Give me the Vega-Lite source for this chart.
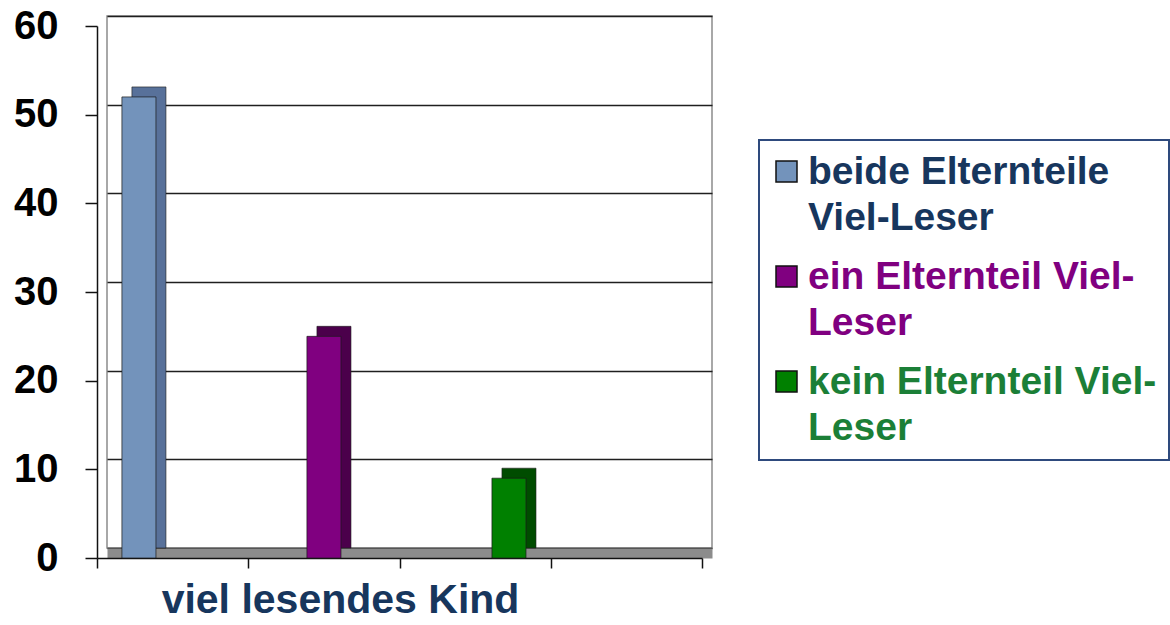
{
  "$schema": "https://vega.github.io/schema/vega-lite/v6.json",
  "width": 605,
  "height": 532,
  "autosize": {"type": "none"},
  "padding": {"left": 107, "top": 16, "right": 458, "bottom": 77},
  "background": "white",
  "config": {
    "view": {"stroke": "#8c8c8c", "strokeWidth": 1.5},
    "font": "Liberation Sans"
  },
  "data": {
    "values": [
      {"kind": "viel lesendes Kind", "series": "beide Elternteile Viel-Leser", "value": 52},
      {"kind": "viel lesendes Kind", "series": "ein Elternteil Viel-Leser", "value": 25},
      {"kind": "viel lesendes Kind", "series": "kein Elternteil Viel-Leser", "value": 9}
    ]
  },
  "layer": [
    {
      "mark": {"type": "bar", "stroke": "#1a1a1a", "strokeWidth": 1, "strokeOpacity": 0.6},
      "encoding": {
        "x": {
          "field": "series", "type": "nominal", "sort": null,
          "scale": {"paddingInner": 0.816, "paddingOuter": 0.543, "align": 0.124},
          "axis": {"orient": "bottom", "labels": false, "ticks": false, "title": null, "grid": false,
                   "domain": true, "domainColor": "#8c8c8c", "domainWidth": 10, "offset": 5}
        },
        "y": {
          "field": "value", "type": "quantitative",
          "scale": {"domain": [0, 60], "nice": false},
          "axis": {"orient": "left", "grid": true, "gridColor": "#1f1f1f", "gridWidth": 1.5,
                   "labels": false, "ticks": false, "domain": false, "title": null,
                   "values": [0, 10, 20, 30, 40, 50, 60]}
        },
        "color": {
          "field": "series", "type": "nominal",
          "scale": {"domain": ["beide Elternteile Viel-Leser", "ein Elternteil Viel-Leser", "kein Elternteil Viel-Leser"],
                    "range": ["#58719a", "#4b004b", "#004c00"]},
          "legend": null
        }
      }
    },
    {
      "mark": {"type": "bar", "opacity": 0},
      "encoding": {
        "x": {
          "field": "series", "type": "nominal",
          "scale": {"domain": ["beide Elternteile Viel-Leser", "ein Elternteil Viel-Leser", "kein Elternteil Viel-Leser", " "],
                    "paddingInner": 0, "paddingOuter": 0},
          "axis": {"orient": "bottom", "labels": false, "ticks": true, "tickBand": "extent", "tickSize": 10,
                   "tickColor": "#111111", "tickWidth": 1.5, "domain": true, "translate": -9.5,
                   "domainColor": "#111111", "domainWidth": 1.5, "offset": 20, "grid": false,
                   "title": "viel lesendes Kind", "titleFont": "Liberation Sans", "titleFontSize": 41,
                   "titleFontWeight": "bold", "titleColor": "#17365D", "titlePadding": 12, "titleX": 243}
        },
        "y": {
          "field": "value", "type": "quantitative",
          "axis": {"orient": "left", "offset": 20, "translate": 10.5, "grid": false, "domain": true,
                   "domainColor": "#111111", "domainWidth": 1.5, "ticks": true, "tickSize": 12,
                   "tickColor": "#111111", "tickWidth": 1.5, "labelFont": "Liberation Sans",
                   "labelFontSize": 40, "labelFontWeight": "bold", "labelColor": "#000000",
                   "labelPadding": 27, "values": [0, 10, 20, 30, 40, 50, 60], "title": null}
        }
      }
    },
    {
      "mark": {"type": "bar", "xOffset": -10, "yOffset": 10, "y2Offset": 10,
               "stroke": "#1a1a1a", "strokeWidth": 1, "strokeOpacity": 0.7},
      "encoding": {
        "x": {
          "field": "series", "type": "nominal", "sort": null,
          "scale": {"paddingInner": 0.816, "paddingOuter": 0.543, "align": 0.124},
          "axis": null
        },
        "y": {"field": "value", "type": "quantitative", "axis": null},
        "color": {
          "field": "series", "type": "nominal",
          "scale": {"domain": ["beide Elternteile Viel-Leser", "ein Elternteil Viel-Leser", "kein Elternteil Viel-Leser"],
                    "range": ["#7393bb", "#800080", "#008000"]},
          "legend": {
            "orient": "none", "legendX": 652, "legendY": 124, "title": null,
            "symbolType": "square", "symbolSize": 441, "symbolStrokeColor": "#111111",
            "symbolStrokeWidth": 1.5, "symbolOffset": -4,
            "labelFont": "Liberation Sans", "labelFontSize": 39, "labelFontWeight": "bold",
            "labelLimit": 0, "labelOffset": 2, "labelBaseline": "middle",
            "labelExpr": "datum.label == 'beide Elternteile Viel-Leser' ? ['beide Elternteile', 'Viel-Leser'] : [replace(datum.label, ' Viel-Leser', ' Viel-'), 'Leser']",
            "rowPadding": 19, "padding": 12, "strokeColor": "#2e4a7d", "fillColor": "white",
            "encode": {
              "legend": {"update": {"strokeWidth": {"value": 2}}},
              "labels": {
                "update": {
                  "lineHeight": {"value": 46},
                  "fill": {"signal": "datum.value == 'beide Elternteile Viel-Leser' ? '#17365D' : datum.value == 'ein Elternteil Viel-Leser' ? '#800080' : '#1B7F37'"}
                }
              }
            }
          }
        }
      }
    }
  ],
  "resolve": {
    "scale": {"x": "independent", "color": "independent"},
    "axis": {"y": "independent"}
  }
}
